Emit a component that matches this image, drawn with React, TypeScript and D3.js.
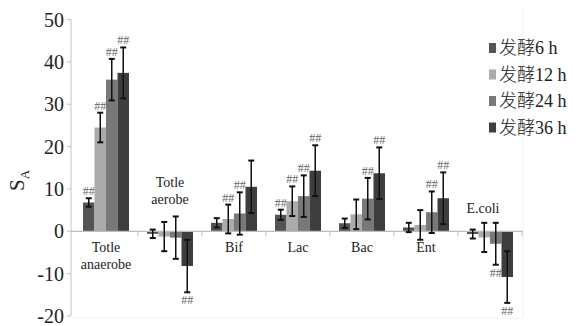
import React from "react";
import * as d3 from "d3";

const categories = ["Totle anaerobe", "Totle aerobe", "Bif", "Lac", "Bac", "Ent", "E.coli"];
const seriesNames = ["发酵6 h", "发酵12 h", "发酵24 h", "发酵36 h"];
const colors = ["#545454", "#ababab", "#787878", "#3e3e3e"];

const v6h = [6.8, -0.6, 2.0, 3.9, 1.9, 0.9, -0.65];
const v12h = [24.5, -1.25, 2.9, 7.1, 4.0, 1.5, -1.45];
const v24h = [35.8, -1.5, 4.2, 8.3, 7.7, 4.5, -2.95];
const v36h = [37.4, -8.2, 10.5, 14.3, 13.7, 7.8, -10.8];

const e6h = [1.0, 1.0, 1.1, 1.2, 1.1, 1.1, 1.05];
const e12h = [3.5, 3.45, 3.4, 3.5, 3.5, 3.5, 3.45];
const e24h = [4.9, 5.0, 5.0, 4.9, 4.9, 4.9, 4.95];
const e36h = [6.0, 6.2, 6.2, 6.0, 6.1, 6.1, 6.1];

// significance marks "##" per category per series
const sig6h = [1, 0, 0, 1, 0, 0, 0];
const sig12h = [1, 0, 1, 1, 0, 0, 0];
const sig24h = [1, 0, 1, 1, 1, 1, 1];
const sig36h = [1, 1, 0, 1, 1, 1, 1];

const yTicks = [-20, -10, 0, 10, 20, 30, 40, 50];

const values = [v6h, v12h, v24h, v36h];
const errors = [e6h, e12h, e24h, e36h];
const sigs = [sig6h, sig12h, sig24h, sig36h];

const W = 582;
const H = 326;
const serif = "'Liberation Serif', 'Times New Roman', serif";
const cjk = "'Liberation Serif', 'Noto Sans CJK SC', serif";

export default function App() {
  const x = d3.scaleBand<string>().domain(categories).range([74, 522]).paddingInner(0).paddingOuter(0);
  const groupW = 46;
  const xs = d3
    .scaleBand<string>()
    .domain(seriesNames)
    .range([(x.bandwidth() - groupW) / 2, (x.bandwidth() + groupW) / 2])
    .padding(0);
  const y = d3.scaleLinear().domain([-20, 50]).range([316, 19.5]);
  const y0 = y(0);
  const axisX = 71;

  const labelPos: Record<string, { above: boolean; lines: string[]; dx: number }> = {
    "Totle anaerobe": { above: false, lines: ["Totle", "anaerobe"], dx: 0 },
    "Totle aerobe": { above: true, lines: ["Totle", "aerobe"], dx: 0 },
    Bif: { above: false, lines: ["Bif"], dx: 0 },
    Lac: { above: false, lines: ["Lac"], dx: 0 },
    Bac: { above: false, lines: ["Bac"], dx: 0 },
    Ent: { above: false, lines: ["Ent"], dx: 0 },
    "E.coli": { above: true, lines: ["E.coli"], dx: -7 },
  };

  return (
    <svg
      width={W}
      height={H}
      style={{ position: "absolute", left: 0, top: 0, background: "#fff" }}
      xmlns="http://www.w3.org/2000/svg"
    >
      <rect x={0} y={0} width={W} height={H} fill="#fff" />
      {/* faint plot border */}
      <line x1={523} x2={523} y1={8} y2={318} stroke="#f0f0f0" strokeWidth={1} />
      <line x1={axisX} x2={523} y1={318} y2={318} stroke="#f2f2f2" strokeWidth={1} />

      {/* y axis */}
      <line x1={axisX} x2={axisX} y1={y(50)} y2={y(-20)} stroke="#c4c4c4" strokeWidth={1} />
      {yTicks.map((t) => (
        <g key={t}>
          <line x1={axisX - 4} x2={axisX} y1={y(t)} y2={y(t)} stroke="#c4c4c4" strokeWidth={1} />
          <text
            x={64}
            y={y(t)}
            dy="0.35em"
            textAnchor="end"
            fontFamily={serif}
            fontSize={20}
            fill="#222"
          >
            {t}
          </text>
        </g>
      ))}
      <text
        transform={`translate(24, ${y(12)}) rotate(-90)`}
        textAnchor="middle"
        fontFamily={serif}
        fontSize={21}
        fill="#222"
      >
        S<tspan fontSize={13} dy="5">A</tspan>
      </text>

      {/* bars */}
      {categories.map((c, ci) =>
        seriesNames.map((s, si) => {
          const v = values[si][ci];
          const bx = (x(c) as number) + (xs(s) as number);
          const bw = xs.bandwidth();
          return (
            <rect
              key={c + s}
              x={bx}
              y={Math.min(y(v), y0)}
              width={bw}
              height={Math.abs(y(v) - y0)}
              fill={colors[si]}
            />
          );
        })
      )}

      {/* zero line with category ticks */}
      <line x1={axisX} x2={523} y1={y0} y2={y0} stroke="#bdbdbd" strokeWidth={1.2} />
      {categories.map((c) => {
        const xr = (x(c) as number) + x.bandwidth();
        return <line key={c} x1={xr} x2={xr} y1={y0} y2={y0 + 5} stroke="#bdbdbd" strokeWidth={1} />;
      })}

      {/* error bars and marks */}
      {categories.map((c, ci) =>
        seriesNames.map((s, si) => {
          const v = values[si][ci];
          const e = errors[si][ci];
          const cx = (x(c) as number) + (xs(s) as number) + xs.bandwidth() / 2;
          const top = y(v + e);
          const bot = y(v - e);
          const sig = sigs[si][ci];
          const markY = v >= 0 ? top - 3 : bot + 12;
          return (
            <g key={"e" + c + s}>
              <line x1={cx} x2={cx} y1={top} y2={bot} stroke="#111" strokeWidth={1.5} />
              <line x1={cx - 3} x2={cx + 3} y1={top} y2={top} stroke="#111" strokeWidth={2} />
              <line x1={cx - 3} x2={cx + 3} y1={bot} y2={bot} stroke="#111" strokeWidth={2} />
              {sig ? (
                <text
                  x={cx}
                  y={markY}
                  textAnchor="middle"
                  fontFamily={serif}
                  fontSize={12}
                  fill="#666"
                >
                  ##
                </text>
              ) : null}
            </g>
          );
        })
      )}

      {/* category labels */}
      {categories.map((c) => {
        const info = labelPos[c];
        const cx = (x(c) as number) + x.bandwidth() / 2 + info.dx;
        const startY = info.above ? (c === "E.coli" ? 213 : 187) : 252;
        return (
          <text
            key={"l" + c}
            x={cx}
            y={startY}
            textAnchor="middle"
            fontFamily={serif}
            fontSize={14}
            fill="#222"
          >
            {info.lines.map((ln, i) => (
              <tspan key={i} x={cx} dy={i === 0 ? 0 : 17}>
                {ln}
              </tspan>
            ))}
          </text>
        );
      })}

      {/* legend */}
      {seriesNames.map((s, si) => {
        const ly = 48 + si * 26.5;
        return (
          <g key={"lg" + s}>
            <rect x={489} y={ly - 5} width={7} height={10} fill={colors[si]} />
            <text x={499} y={ly} dy="0.35em" fontFamily={cjk} fontSize={18} fontWeight={300} fill="#222">
              {s}
            </text>
          </g>
        );
      })}
    </svg>
  );
}
